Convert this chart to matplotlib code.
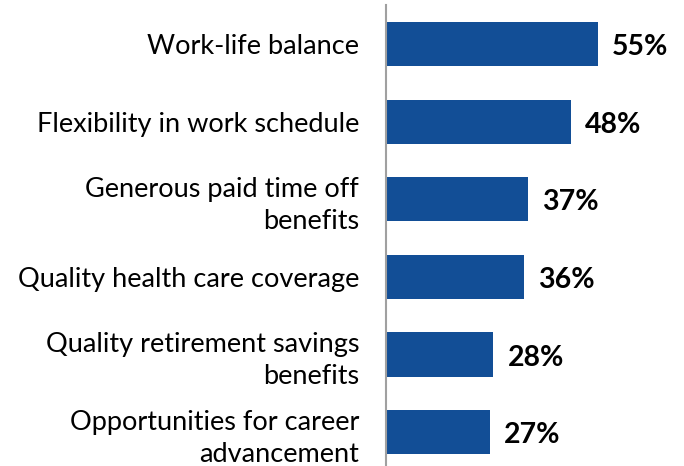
import matplotlib.pyplot as plt

categories = [
    "Work-life balance",
    "Flexibility in work schedule",
    "Generous paid time off\nbenefits",
    "Quality health care coverage",
    "Quality retirement savings\nbenefits",
    "Opportunities for career\nadvancement",
]
values = [55, 48, 37, 36, 28, 27]

plt.rcParams['font.family'] = ['Lato', 'DejaVu Sans']

fig = plt.figure(figsize=(6.84, 4.66), dpi=100)
ax = fig.add_axes([385.5 / 684, 0, 1 - 385.5 / 684, 1 - 5 / 466])

pos = list(range(len(categories)))
ax.barh(pos, values, height=0.57, color='#124E96')

for p, v in zip(pos, values):
    ax.text(v + 3.7, p + 0.04, f"{v}%", va='center', ha='left',
            fontsize=20.5, fontweight='bold', color='black')

ax.set_yticks(pos)
ax.set_yticklabels(categories, fontsize=19.5, color='black', linespacing=1.35)
ax.tick_params(axis='y', length=0, pad=19)
ax.set_xticks([])
ax.set_xlim(0, 298.5 / 3.855)
ax.set_ylim(5.438, -0.503)

for s in ['top', 'right', 'bottom']:
    ax.spines[s].set_visible(False)
ax.spines['left'].set_color('#A0A0A0')
ax.spines['left'].set_linewidth(1.5)

fig.savefig('out.png', dpi=100)
